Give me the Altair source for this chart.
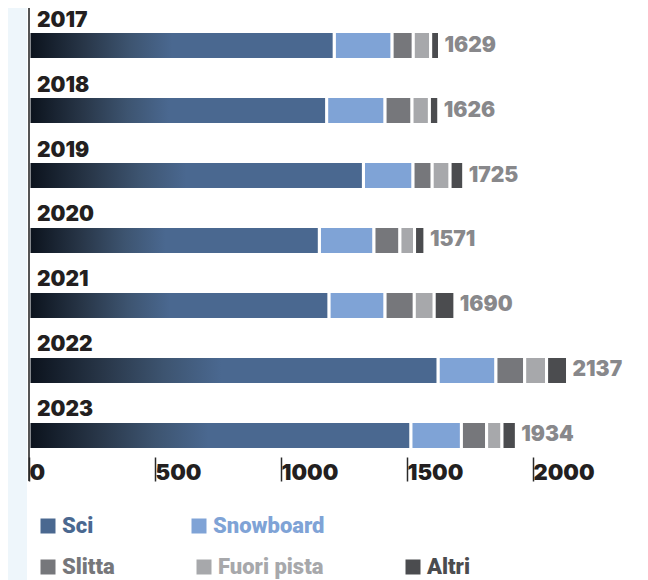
import altair as alt
import pandas as pd

years = ["2017", "2018", "2019", "2020", "2021", "2022", "2023"]
sci = [1211, 1181, 1327, 1152, 1190, 1623, 1515]
snowboard = [230, 232, 197, 217, 223, 230, 201]
slitta = [84, 107, 76, 103, 116, 114, 100]
fuori_pista = [69, 69, 71, 58, 79, 87, 61]
altri = [35, 37, 54, 41, 82, 83, 57]
totals = [1629, 1626, 1725, 1571, 1690, 2137, 1934]

categories = ["Sci", "Snowboard", "Slitta", "Fuori pista", "Altri"]
series = [sci, snowboard, slitta, fuori_pista, altri]
colors = ["#4a6890", "#7fa3d6", "#76777b", "#a7a8ab", "#4b4c4f"]
tick_values = [0, 500, 1000, 1500, 2000]

rows = []
for i, y in enumerate(years):
    start = 0
    for cat, vals in zip(categories, series):
        rows.append({"year": y, "category": cat, "start": start, "end": start + vals[i]})
        start += vals[i]
seg = pd.DataFrame(rows)
tot = pd.DataFrame({"year": years, "total": totals})

NUM_FONT = "Inter"
LEG_FONT = "Roboto"

x_scale = alt.Scale(domain=[0, 2381], nice=False, zero=False)
y_scale = alt.Scale(domain=years, paddingInner=0.569, paddingOuter=0.2385, align=0.758)

x_enc = alt.X(
    "start:Q",
    scale=x_scale,
    axis=alt.Axis(
        values=tick_values, domain=False, grid=False, title=None, format="d",
        tickSize=24, tickColor="#2a2a2a", tickWidth=1.5,
        labelAlign="left", labelBaseline="middle", labelPadding=-9,
        labelExpr="' ' + datum.label",
        labelFont=NUM_FONT, labelFontSize=22, labelFontWeight=900,
        labelColor="#231f20", labelFlush=False, labelOverlap=False, zindex=1,
    ),
)
y_enc = alt.Y("year:N", scale=y_scale, axis=None)

base = alt.Chart(seg)

strip = alt.Chart(tot).mark_rect(color="#eef6fb").encode(
    x=alt.value(-21), x2=alt.value(-2), y=alt.value(-8), y2=alt.value(580)
)

legend_common = dict(
    orient="none", direction="horizontal", title=None,
    symbolType="square", symbolSize=225, symbolStrokeWidth=0, symbolOpacity=1,
    labelFont=LEG_FONT, labelFontSize=22, labelFontWeight=900,
    labelOffset=3, padding=0, labelLimit=0,
)

layer_a = base.transform_filter(
    alt.FieldOneOfPredicate(field="category", oneOf=["Sci", "Snowboard"])
).mark_bar(stroke="white", strokeWidth=3).encode(
    x=x_enc,
    x2="end:Q",
    y=y_enc,
    fill=alt.Fill(
        "category:N",
        scale=alt.Scale(domain=categories[:2], range=colors[:2]),
        legend=alt.Legend(
            legendX=8, legendY=507, columnPadding=94,
            labelColor={"expr": "datum.value === 'Sci' ? '#4a6890' : '#7fa3d6'"},
            **legend_common,
        ),
    ),
)

layer_b = base.transform_filter(
    alt.FieldOneOfPredicate(field="category", oneOf=["Slitta", "Fuori pista", "Altri"])
).mark_bar(stroke="white", strokeWidth=3).encode(
    x=x_enc,
    x2="end:Q",
    y=y_enc,
    color=alt.Color(
        "category:N",
        scale=alt.Scale(domain=categories[2:], range=colors[2:]),
        legend=alt.Legend(
            legendX=8, legendY=548, columnPadding=78,
            labelColor={"expr": "datum.value === 'Slitta' ? '#76777b' : (datum.value === 'Altri' ? '#4b4c4f' : '#a7a8ab')"},
            **legend_common,
        ),
    ),
)

gradient = alt.LinearGradient(
    gradient="linear",
    stops=[
        alt.GradientStop(color="#0b121c", offset=0),
        alt.GradientStop(color="#283648", offset=0.18),
        alt.GradientStop(color="#3d5470", offset=0.33),
        alt.GradientStop(color="#4a6890", offset=0.47),
        alt.GradientStop(color="#4a6890", offset=1),
    ],
    x1=0, x2=1, y1=0, y2=0,
)

layer_sci = base.transform_filter(
    alt.FieldEqualPredicate(field="category", equal="Sci")
).mark_bar(color=gradient, stroke="white", strokeWidth=3).encode(
    x=x_enc, x2="end:Q", y=y_enc
)

year_text = alt.Chart(tot).mark_text(
    align="left", baseline="middle", dx=8, dy=-25,
    font=NUM_FONT, fontSize=21, fontWeight=900, color="#231f20",
).encode(x=alt.datum(0), y=alt.Y("year:N", scale=y_scale, axis=None), text="year:N")

total_text = alt.Chart(tot).mark_text(
    align="left", baseline="middle", dx=5,
    font=NUM_FONT, fontSize=21, fontWeight=900, color="#88888b",
).encode(x=alt.X("total:Q", scale=x_scale), y=alt.Y("year:N", scale=y_scale, axis=None), text="total:Q")

left_rule = alt.Chart(tot).mark_rule(color="#555555", strokeWidth=1.5).encode(
    x=alt.value(0), y=alt.value(-8), y2=alt.value(473)
)

chart = alt.layer(
    strip, layer_a, layer_b, layer_sci, year_text, total_text, left_rule
).resolve_scale(fill="independent", color="independent").properties(
    width=600,
    height=449,
    padding={"left": 21, "top": 0, "right": 10, "bottom": 123},
    autosize=alt.AutoSizeParams(type="none"),
    background="white",
).configure_view(stroke=None)

chart.save("out.html", embed_options={"renderer": "svg", "actions": False})
